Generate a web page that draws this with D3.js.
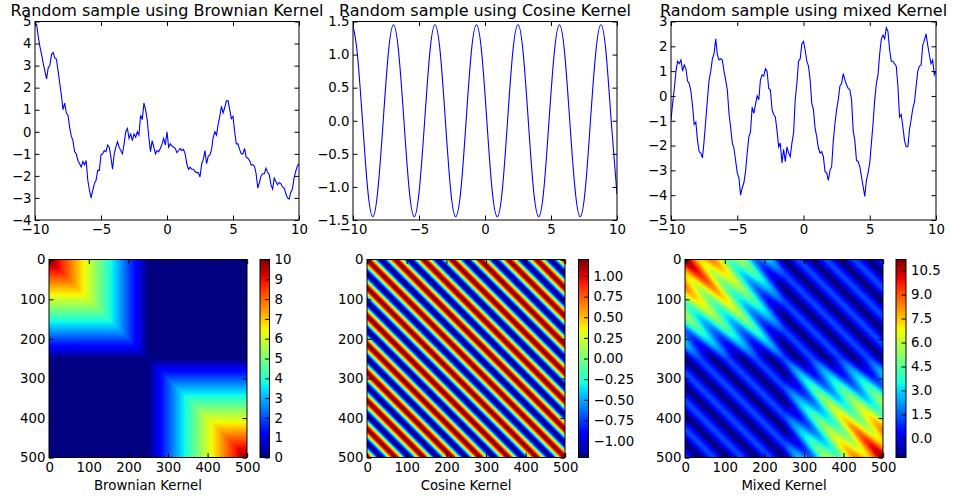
<!DOCTYPE html>
<html lang="en">
<head>
<meta charset="UTF-8">
<title>Kernel samples</title>
<script src="https://d3js.org/d3.v7.min.js"></script>
<style>
  body { margin: 0; background: #fff; }
  svg text { font-family: "DejaVu Sans", sans-serif; }
</style>
</head>
<body>
<div id="chart"></div>
<script>

// sample drawn with the Brownian kernel, even steps from -10 to 10
var brownianY = [
  4.95, 4.85, 4.3, 3.85, 3.5, 3.1, 2.75, 2.4, 2.9, 3.0,
  3.5, 3.6, 3.35, 3.3, 2.75, 2.2, 1.65, 1.0, 1.3, 0.85,
  0.75, 0.2, -0.2, -0.4, -0.9, -1.0, -1.3, -1.45, -1.6, -1.35,
  -1.5, -1.3, -2.2, -2.65, -3.0, -2.65, -2.35, -2.2, -1.75, -1.75,
  -1.05, -1.0, -0.85, -0.9, -0.6, -0.7, -1.15, -1.7, -1.0, -0.7,
  -0.45, -0.7, -0.85, -1.0, -0.55, 0.0, 0.15, -0.3, -0.1, -0.4,
  -0.1, -0.25, 0.0, -0.15, 0.75, 0.55, 1.3, 1.0, 0.55, -0.25,
  -0.9, -0.4, -0.7, -1.0, -0.85, -0.9, -0.75, -0.55, -0.3, -0.6,
  0.0, -0.7, -0.55, -0.65, -0.7, -0.75, -0.95, -0.85, -0.75, -0.85,
  -0.8, -1.0, -1.45, -1.7, -1.6, -1.7, -1.7, -1.8, -1.85, -1.85,
  -2.05, -1.45, -1.25, -0.85, -1.45, -1.1, -1.05, -0.8, -0.25, 0.0,
  -0.15, 0.35, 0.7, 1.15, 0.85, 1.1, 1.4, 1.4, 1.0, 0.6,
  0.7, 0.0, -0.55, -0.55, -0.8, -1.0, -1.0, -0.75, -1.15, -1.2,
  -1.3, -1.5, -1.5, -1.55, -1.9, -2.55, -2.3, -2.0, -1.9, -1.9,
  -1.65, -1.85, -1.95, -2.4, -2.6, -2.1, -2.25, -2.4, -2.3, -2.35,
  -2.5, -2.55, -2.8, -3.0, -3.05, -2.75, -2.6, -2.1, -1.8, -1.55,
  -1.45
];

// sample drawn with the cosine kernel (points at every 1/8 period)
var cosineX = [-10, -9.68, -9.28, -8.89, -8.50, -8.11, -7.71, -7.32, -6.93, -6.54,
  -6.14, -5.75, -5.36, -4.97, -4.57, -4.18, -3.79, -3.39, -3.00, -2.61,
  -2.22, -1.82, -1.43, -1.04, -0.65, -0.25, 0.14, 0.53, 0.93, 1.32,
  1.71, 2.10, 2.50, 2.89, 3.28, 3.67, 4.07, 4.46, 4.85, 5.25,
  5.64, 6.03, 6.42, 6.82, 7.21, 7.60, 7.99, 8.39, 8.78, 9.17,
  9.56, 10.0];
var cosineY = [1.43, 1.03, 0, -1.03, -1.45, -1.03, 0, 1.03, 1.45, 1.03,
  0, -1.03, -1.45, -1.03, 0, 1.03, 1.45, 1.03, 0, -1.03,
  -1.45, -1.03, 0, 1.03, 1.45, 1.03, 0, -1.03, -1.45, -1.03,
  0, 1.03, 1.45, 1.03, 0, -1.03, -1.45, -1.03, 0, 1.03,
  1.45, 1.03, 0, -1.03, -1.45, -1.03, 0, 1.03, 1.45, 1.03,
  0, -1.11];

// sample drawn with the mixed kernel, even steps from -10 to 10
var mixedY = [
  -0.97, -0.3, 0.3, 1.0, 1.4, 1.3, 1.45, 1.0, 1.25, 1.1,
  0.6, 0.5, 0.2, -0.4, -1.15, -1.05, -1.8, -2.25, -2.3, -2.5,
  -1.8, -0.97, -0.15, 0.65, 1.0, 1.5, 1.7, 2.3, 1.65, 1.45,
  1.5, 1.45, 1.0, 0.65, 0.25, -0.7, -1.25, -1.9, -2.1, -2.6,
  -3.1, -3.3, -4.0, -3.7, -3.5, -3.05, -2.3, -1.65, -1.45, -0.45,
  -0.7, -0.35, 0.0, -0.15, 0.65, 0.85, 0.8, 1.1, 1.0, 0.3,
  0.25, -0.55, -0.75, -0.85, -1.4, -2.05, -1.9, -2.7, -2.15, -2.65,
  -2.05, -2.3, -2.45, -1.9, -1.5, -0.15, 0.5, 1.4, 1.5, 2.1,
  2.2,
  1.85, 1.4, 1.2, 0.65, -0.3, -0.55, -1.3, -1.65, -2.1, -2.3,
  -2.25, -2.45, -3.05, -3.1, -3.4, -3.0, -2.85, -1.8, -1.1, -0.55,
  -0.15, 0.4, 0.5, 0.9, 0.65, 0.45, 0.3, 0.25, -0.15, -1.4,
  -1.8, -2.6, -2.65, -2.85, -3.25, -3.65, -4.05, -3.4, -3.1, -2.7,
  -1.9, -1.1, -0.15, 0.5, 0.85, 1.7, 2.3, 2.45, 2.3, 2.75,
  2.6, 1.85, 1.4, 1.4, 1.3, 1.2, 0.4, -0.85, -0.75, -1.25,
  -1.8, -2.05, -2.05, -1.35, -0.95, -0.5, -0.25, 0.4, 1.0, 1.2,
  1.25, 2.05, 2.25, 2.5, 2.05, 1.65, 1.3, 1.45, 0.85, 1.0
];

var sampleRange = [-10, 10];
var xTicks = [-10, -5, 0, 5, 10];
var xTickLabels = ["\u221210", "\u22125", "0", "5", "10"];

var brownianTicks = [-4, -3, -2, -1, 0, 1, 2, 3, 4, 5];
var brownianTickLabels = ["\u22124", "\u22123", "\u22122", "\u22121", "0", "1", "2", "3", "4", "5"];
var cosineTicks = [-1.5, -1, -0.5, 0, 0.5, 1, 1.5];
var cosineTickLabels = ["\u22121.5", "\u22121.0", "\u22120.5", "0.0", "0.5", "1.0", "1.5"];
var mixedTicks = [-5, -4, -3, -2, -1, 0, 1, 2, 3];
var mixedTickLabels = ["\u22125", "\u22124", "\u22123", "\u22122", "\u22121", "0", "1", "2", "3"];

// kernel matrices (500 x 500 grid over -10..10)
var gridN = 500;
var gridRange = [-10, 10];
var cosineVar = 1.2;
var cosinePeriod = 71.3;   // stripe period, in grid steps
var matrixTicks = [0, 100, 200, 300, 400, 500];

var brownianCbar = [0, 10];
var brownianCbarTicks = [0, 1, 2, 3, 4, 5, 6, 7, 8, 9, 10];
var brownianCbarLabels = ["0", "1", "2", "3", "4", "5", "6", "7", "8", "9", "10"];
var cosineCbar = [-1.2, 1.2];
var cosineCbarTicks = [-1, -0.75, -0.5, -0.25, 0, 0.25, 0.5, 0.75, 1];
var cosineCbarLabels = ["\u22121.00", "\u22120.75", "\u22120.50", "\u22120.25", "0.00", "0.25", "0.50", "0.75", "1.00"];
var mixedCbar = [-1.2, 11.2];
var mixedCbarTicks = [0, 1.5, 3, 4.5, 6, 7.5, 9, 10.5];
var mixedCbarLabels = ["0.0", "1.5", "3.0", "4.5", "6.0", "7.5", "9.0", "10.5"];

// jet colormap
var jetR = [[0, 0], [0.35, 0], [0.66, 1], [0.89, 1], [1, 0.5]];
var jetG = [[0, 0], [0.125, 0], [0.375, 1], [0.64, 1], [0.91, 0], [1, 0]];
var jetB = [[0, 0.5], [0.11, 1], [0.34, 1], [0.65, 0], [1, 0]];

function channel(stops) {
  return d3.scaleLinear()
    .domain(stops.map(function(d) { return d[0]; }))
    .range(stops.map(function(d) { return d[1] * 255; }))
    .clamp(true);
}
var jr = channel(jetR), jg = channel(jetG), jb = channel(jetB);

var fontSize = 13.3;
var tickLen = 4.5;

var svg = d3.select("#chart")
  .append("svg")
    .attr("width", 954)
    .attr("height", 500);

var defs = svg.append("defs");

function styleAxis(g) {
  g.attr("font-family", "DejaVu Sans, sans-serif")
   .attr("font-size", fontSize)
   .attr("color", "#000");
  g.select(".domain").remove();
  g.selectAll("line").attr("stroke-width", 1);
}

function frame(x0, y0, x1, y1) {
  svg.append("rect")
    .attr("x", x0).attr("y", y0)
    .attr("width", x1 - x0).attr("height", y1 - y0)
    .attr("fill", "none")
    .attr("stroke", "#000")
    .attr("stroke-width", 1);
}

function fourSides(x, y, xt, xl, yt, yl, box) {
  svg.append("g").attr("transform", "translate(0," + box.bottom + ")")
    .call(d3.axisBottom(x).tickValues(xt).tickSize(-tickLen).tickPadding(5)
      .tickFormat(function(d, i) { return xl[i]; }))
    .call(styleAxis);
  svg.append("g").attr("transform", "translate(0," + box.top + ")")
    .call(d3.axisTop(x).tickValues(xt).tickSize(-tickLen).tickFormat(""))
    .call(styleAxis);
  svg.append("g").attr("transform", "translate(" + box.left + ",0)")
    .call(d3.axisLeft(y).tickValues(yt).tickSize(-tickLen).tickPadding(3.5)
      .tickFormat(function(d, i) { return yl[i]; }))
    .call(styleAxis);
  svg.append("g").attr("transform", "translate(" + box.right + ",0)")
    .call(d3.axisRight(y).tickValues(yt).tickSize(-tickLen).tickFormat(""))
    .call(styleAxis);
}

// ---- top row: samples ----
var sampleTop = 21.5, sampleBottom = 220;

function samplePanel(id, left, right, title, points, yDomain, yTicks, yLabels, curve) {
  var box = {left: left, right: right, top: sampleTop, bottom: sampleBottom};
  var x = d3.scaleLinear().domain(sampleRange).range([left, right]);
  var y = d3.scaleLinear().domain(yDomain).range([sampleBottom, sampleTop]);

  defs.append("clipPath").attr("id", id)
    .append("rect")
      .attr("x", left).attr("y", sampleTop)
      .attr("width", right - left).attr("height", sampleBottom - sampleTop);

  var line = d3.line()
    .x(function(d) { return x(d[0]); })
    .y(function(d) { return y(d[1]); })
    .curve(curve);

  svg.append("path")
    .datum(points)
    .attr("clip-path", "url(#" + id + ")")
    .attr("d", line)
    .attr("fill", "none")
    .attr("stroke", "#0000ff")
    .attr("stroke-width", 1.1);

  fourSides(x, y, xTicks, xTickLabels, yTicks, yLabels, box);
  frame(left, sampleTop, right, sampleBottom);

  svg.append("text")
    .attr("x", (left + right) / 2)
    .attr("y", 16)
    .attr("text-anchor", "middle")
    .attr("font-size", 16)
    .text(title);
}

function evenSteps(values) {
  var step = d3.scaleLinear().domain([0, values.length - 1]).range(sampleRange);
  return values.map(function(v, i) { return [step(i), v]; });
}

samplePanel("c1", 35, 299, "Random sample using Brownian Kernel",
  evenSteps(brownianY), [-4, 5], brownianTicks, brownianTickLabels, d3.curveLinear);
samplePanel("c2", 353, 617, "Random sample using Cosine Kernel",
  cosineX.map(function(v, i) { return [v, cosineY[i]]; }), [-1.5, 1.5],
  cosineTicks, cosineTickLabels, d3.curveNatural);
samplePanel("c3", 671, 936, "Random sample using mixed Kernel",
  evenSteps(mixedY), [-5, 3], mixedTicks, mixedTickLabels, d3.curveLinear);

// ---- bottom row: kernel matrices ----
var gridX = d3.scaleLinear().domain([0, gridN - 1]).range(gridRange);

function brownianK(i, j) {
  var a = gridX(i), b = gridX(j);
  return a * b > 0 ? Math.min(Math.abs(a), Math.abs(b)) : 0;
}
function cosineK(i, j) {
  return cosineVar * Math.cos(2 * Math.PI * (i - j) / cosinePeriod);
}
function mixedK(i, j) {
  return brownianK(i, j) + cosineK(i, j);
}

var matTop = 259.5, matBottom = 457.5;

function matrixPanel(left, right, cbLeft, cbRight, kernel, cbDomain, cbTicks, cbLabels, label) {
  var box = {left: left, right: right, top: matTop, bottom: matBottom};
  var x = d3.scaleLinear().domain([-0.5, gridN - 0.5]).range([left, right]);
  var y = d3.scaleLinear().domain([-0.5, gridN - 0.5]).range([matTop, matBottom]);
  var t = d3.scaleLinear().domain(cbDomain).range([0, 1]).clamp(true);

  var canvas = document.createElement("canvas");
  canvas.width = gridN; canvas.height = gridN;
  var ctx = canvas.getContext("2d");
  var img = ctx.createImageData(gridN, gridN);
  for (var i = 0; i < gridN; i++) {
    for (var j = 0; j < gridN; j++) {
      var v = t(kernel(i, j));
      var k = (i * gridN + j) * 4;
      img.data[k] = jr(v);
      img.data[k + 1] = jg(v);
      img.data[k + 2] = jb(v);
      img.data[k + 3] = 255;
    }
  }
  ctx.putImageData(img, 0, 0);

  svg.append("image")
    .attr("x", x(-0.5)).attr("y", y(-0.5))
    .attr("width", x(gridN - 0.5) - x(-0.5))
    .attr("height", y(gridN - 0.5) - y(-0.5))
    .attr("preserveAspectRatio", "none")
    .attr("href", canvas.toDataURL());

  fourSides(x, y, matrixTicks, matrixTicks.map(String), matrixTicks, matrixTicks.map(String), box);
  frame(left, matTop, right, matBottom);

  svg.append("text")
    .attr("x", (left + right) / 2)
    .attr("y", 490)
    .attr("text-anchor", "middle")
    .attr("font-size", fontSize)
    .text(label);

  // colorbar
  var cy = d3.scaleLinear().domain(cbDomain).range([matBottom, matTop]);
  var bar = document.createElement("canvas");
  bar.width = 1; bar.height = 256;
  var bctx = bar.getContext("2d");
  var bimg = bctx.createImageData(1, 256);
  for (var r = 0; r < 256; r++) {
    var u = 1 - r / 255;
    bimg.data[r * 4] = jr(u);
    bimg.data[r * 4 + 1] = jg(u);
    bimg.data[r * 4 + 2] = jb(u);
    bimg.data[r * 4 + 3] = 255;
  }
  bctx.putImageData(bimg, 0, 0);
  svg.append("image")
    .attr("x", cbLeft).attr("y", matTop)
    .attr("width", cbRight - cbLeft).attr("height", matBottom - matTop)
    .attr("preserveAspectRatio", "none")
    .attr("href", bar.toDataURL());

  svg.append("g").attr("transform", "translate(" + cbRight + ",0)")
    .call(d3.axisRight(cy).tickValues(cbTicks).tickSize(-tickLen).tickPadding(5)
      .tickFormat(function(d, i) { return cbLabels[i]; }))
    .call(styleAxis);
  frame(cbLeft, matTop, cbRight, matBottom);
}

matrixPanel(49, 247, 260, 269.5, brownianK, brownianCbar, brownianCbarTicks, brownianCbarLabels, "Brownian Kernel");
matrixPanel(367, 565, 578.5, 588.5, cosineK, cosineCbar, cosineCbarTicks, cosineCbarLabels, "Cosine Kernel");
matrixPanel(685, 883, 896, 906, mixedK, mixedCbar, mixedCbarTicks, mixedCbarLabels, "Mixed Kernel");

</script>
</body>
</html>
